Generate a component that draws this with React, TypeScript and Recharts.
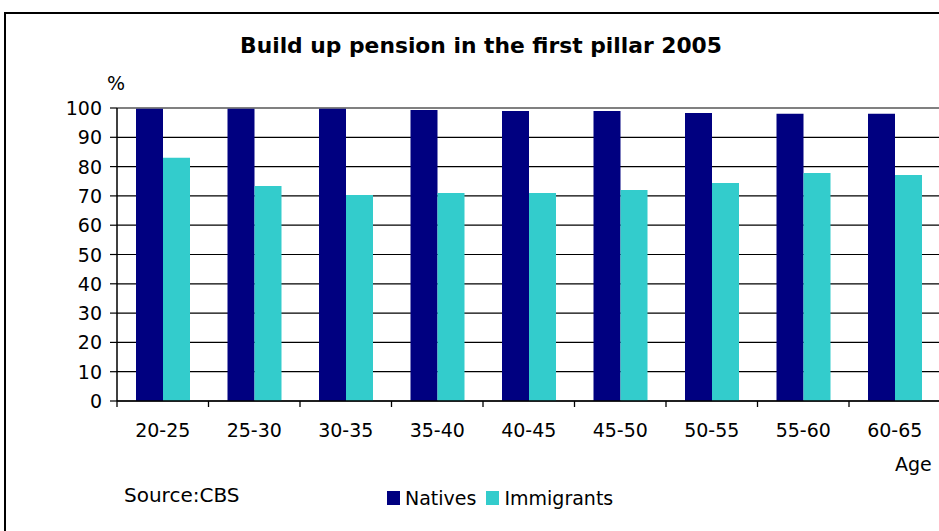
import React from 'react';
import {
  BarChart,
  Bar,
  XAxis,
  YAxis,
  CartesianGrid,
  ReferenceLine,
  Legend,
  Customized,
} from 'recharts';

// Age groups on the category axis
const ageGroups = ['20-25', '25-30', '30-35', '35-40', '40-45', '45-50', '50-55', '55-60', '60-65'];
// Share (%) with pension build-up in the first pillar, 2005
const natives = [100, 100, 100, 99.3, 99, 99, 98.3, 98, 98];
const immigrants = [83, 73.4, 70.3, 71, 71, 72, 74.4, 77.8, 77.1];
// Value axis ticks
const yTicks = [0, 10, 20, 30, 40, 50, 60, 70, 80, 90, 100];
// Series in legend order
const seriesOrder = ['Natives', 'Immigrants'];

const data = ageGroups.map((age, i) => ({
  age,
  Natives: natives[i],
  Immigrants: immigrants[i],
}));

const FONT = '"DejaVu Sans", Verdana, sans-serif';
const NAVY = '#000080';
const TURQUOISE = '#33CCCC';

// Layout
const CHART_W = 960;
const CHART_H = 531;
const PLOT_LEFT = 117;
const PLOT_TOP = 108;
const PLOT_RIGHT = 940.5;
const PLOT_BOTTOM = 401;
const X_AXIS_H = 30;
const PLOT_W = PLOT_RIGHT - PLOT_LEFT;
const BAND = PLOT_W / ageGroups.length;

const YTick = (props: any) => {
  const { x, y, payload } = props;
  return (
    <text x={x} y={y + 7} textAnchor="end" fill="#000" fontSize={19} fontFamily={FONT}>
      {payload.value}
    </text>
  );
};

// Category labels centred in each band, tick marks on the band boundaries
const XTick = (props: any) => {
  const { x, y, payload, index } = props;
  const half = BAND / 2;
  const last = index === ageGroups.length - 1;
  return (
    <g>
      <line x1={x - half} x2={x - half} y1={y} y2={y + 6} stroke="#000" strokeWidth={1.3} />
      {last && <line x1={x + half} x2={x + half} y1={y} y2={y + 6} stroke="#000" strokeWidth={1.3} />}
      <text x={x} y={y + 36} textAnchor="middle" fill="#000" fontSize={19} fontFamily={FONT}>
        {payload.value}
      </text>
    </g>
  );
};

const LegendContent = (props: any) => {
  const items = [...(props.payload || [])].sort(
    (a: any, b: any) => seriesOrder.indexOf(a.value) - seriesOrder.indexOf(b.value)
  );
  return (
    <div style={{ display: 'flex', alignItems: 'center', height: 20, fontFamily: FONT, fontSize: 19, lineHeight: '20px', color: '#000' }}>
      {items.map((entry: any, i: number) => (
        <div key={entry.value} style={{ display: 'flex', alignItems: 'center', marginLeft: i === 0 ? 0 : 10 }}>
          <span style={{ display: 'inline-block', width: 13, height: 14, background: entry.color, marginRight: 5 }} />
          <span>{entry.value}</span>
        </div>
      ))}
    </div>
  );
};

const Annotations = () => (
  <g fontFamily={FONT} fill="#000">
    <text x={481} y={53} textAnchor="middle" fontSize={21.8} fontWeight="bold">
      Build up pension in the first pillar 2005
    </text>
    <text x={116} y={90} textAnchor="middle" fontSize={19}>
      %
    </text>
    <text x={895} y={471} textAnchor="start" fontSize={19}>
      Age
    </text>
    <text x={124} y={502} textAnchor="start" fontSize={20}>
      Source:CBS
    </text>
  </g>
);

export default function App() {
  return (
    <div style={{ position: 'absolute', left: 0, top: 0, width: 939, height: 531, overflow: 'hidden', background: '#fff' }}>
      <div
        style={{
          position: 'absolute',
          left: 4,
          top: 12,
          width: 1100,
          height: 800,
          borderLeft: '2px solid #000',
          borderTop: '2px solid #000',
          boxSizing: 'border-box',
        }}
      />
      <div style={{ position: 'absolute', left: 0, top: 0 }}>
        <BarChart
          width={CHART_W}
          height={CHART_H}
          data={data}
          margin={{ top: PLOT_TOP, right: CHART_W - PLOT_RIGHT, left: 0, bottom: CHART_H - PLOT_BOTTOM - X_AXIS_H }}
          barGap={0}
          barSize={27}
        >
          <CartesianGrid vertical={false} stroke="#000" strokeWidth={1.2} />
          <XAxis
            dataKey="age"
            height={X_AXIS_H}
            axisLine={{ stroke: '#000', strokeWidth: 1.5 }}
            tickLine={false}
            tickSize={0}
            tickMargin={0}
            interval={0}
            tick={<XTick />}
          />
          <YAxis
            width={PLOT_LEFT}
            domain={[0, 100]}
            ticks={yTicks}
            interval={0}
            axisLine={{ stroke: '#000', strokeWidth: 1.5 }}
            tickLine={{ stroke: '#000', strokeWidth: 1.2 }}
            tickSize={7}
            tickMargin={8}
            tick={<YTick />}
          />
          <ReferenceLine y={100} stroke="#808080" strokeWidth={1.5} />
          <Bar dataKey="Natives" fill={NAVY} isAnimationActive={false} />
          <Bar dataKey="Immigrants" fill={TURQUOISE} isAnimationActive={false} />
          <Legend
            layout="horizontal"
            verticalAlign="middle"
            align="center"
            content={<LegendContent />}
            wrapperStyle={{ position: 'absolute', left: 387, top: 488, width: 'auto', margin: 0 }}
          />
          <Customized component={Annotations} />
        </BarChart>
      </div>
    </div>
  );
}
